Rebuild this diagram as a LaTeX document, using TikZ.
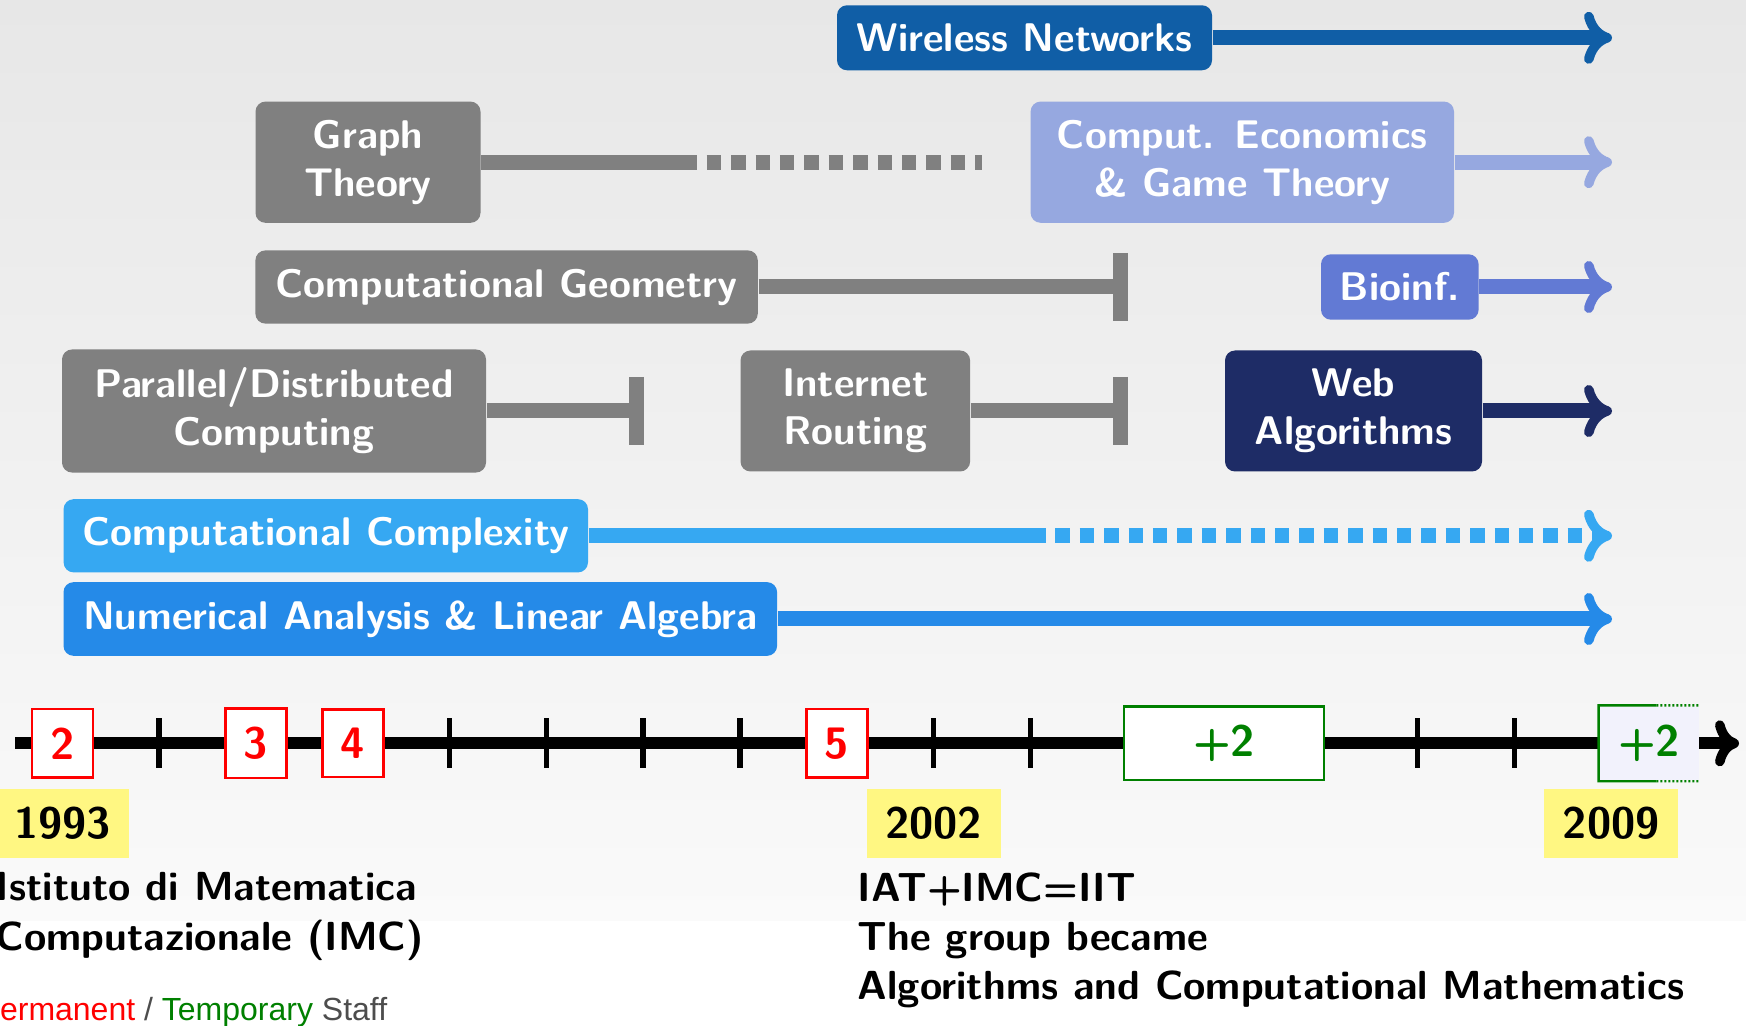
\documentclass[tikz,border=0pt]{standalone}
\usepackage{fontspec}
\usepackage{tikz}
\usetikzlibrary{arrows.meta,calc}
\newfontfamily\stafffont{Liberation Sans}
\definecolor{bgtop}{RGB}{231,231,231}
\definecolor{bgbot}{RGB}{250,250,250}
\definecolor{wirelesscol}{RGB}{16,94,166}
\definecolor{oldcol}{RGB}{128,128,128}
\definecolor{econcol}{RGB}{150,168,224}
\definecolor{bioinfcol}{RGB}{98,122,212}
\definecolor{webcol}{RGB}{30,44,102}
\definecolor{complexcol}{RGB}{54,168,242}
\definecolor{numercol}{RGB}{37,138,232}
\definecolor{yearcol}{RGB}{255,247,130}
\definecolor{permcol}{RGB}{255,0,0}
\definecolor{tempcol}{RGB}{0,128,0}
\definecolor{lastcol}{RGB}{242,242,252}
\definecolor{staffcol}{RGB}{77,77,77}

\begin{document}
\begin{tikzpicture}[x=0.25pt,y=-0.25pt,
  topic/.style={fill=#1,text=white,rounded corners=2.5pt,inner sep=4.6pt,
    font=\sffamily\bfseries,align=center},
  topicline/.style={draw=#1,line width=3.75pt},
  ongoing/.style={topicline=#1,-{To[length=7pt,width=13pt,line width=2.4pt]}},
  ended/.style={topicline=#1,-{Bar[width=17pt]}},
  faded/.style={topicline=#1,dash pattern=on 3.6pt off 2.5pt},
  year/.style={fill=yearcol,inner sep=4.6pt,minimum width=33.5pt,minimum height=16.25pt,
    font=\fontsize{11}{13}\selectfont\sffamily\bfseries},
  perm/.style={draw=permcol,line width=0.6pt,fill=white,text=permcol,inner sep=4.6pt,
    minimum width=15.25pt,minimum height=16.85pt,font=\fontsize{11}{13}\selectfont\sffamily\bfseries},
  temp/.style={draw=tempcol,line width=0.6pt,fill=white,text=tempcol,inner sep=4.6pt,
    minimum height=18pt,font=\fontsize{11}{13}\selectfont\sffamily\bfseries}]
\useasboundingbox (0,0) rectangle (1746,1026);
\clip (0,0) rectangle (1746,1026);
\shade[top color=bgtop,bottom color=bgbot] (0,0) rectangle (1746,920);

\node[topic=wirelesscol,minimum width=93.75pt] (wireless) at (1024.5,37.8) {Wireless Networks};
\coordinate (wirelessend) at (1612,37.8);
\draw[ongoing=wirelesscol] (wireless.east) -- (wirelessend);

\node[topic=oldcol,minimum width=56.25pt,minimum height=30.25pt] (graph) at (368,162.2) {Graph\\Theory};
\coordinate (graphsolid) at (697,162.2);
\coordinate (graphdash) at (706.7,162.2);
\coordinate (graphend) at (982.3,162.2);
\draw[topicline=oldcol] (graph.east) -- (graphsolid);
\draw[faded=oldcol] (graphdash) -- (graphend);
\node[topic=econcol,minimum width=105.85pt,minimum height=30.25pt] (econ) at (1242.3,162.2) {Comput. Economics\\\& Game Theory};
\coordinate (econend) at (1612,162.2);
\draw[ongoing=econcol] (econ.east) -- (econend);

\node[topic=oldcol,minimum width=125.6pt] (geom) at (506.6,287) {Computational Geometry};
\coordinate (geomend) at (1128,287);
\draw[ended=oldcol] (geom.east) -- (geomend);
\node[topic=bioinfcol,minimum width=39.4pt] (bioinf) at (1399.8,287) {Bioinf.};
\coordinate (bioinfend) at (1612,287);
\draw[ongoing=bioinfcol] (bioinf.east) -- (bioinfend);

\node[topic=oldcol,minimum width=106pt,minimum height=30.75pt] (parallel) at (274,411) {Parallel/Distributed\\Computing};
\coordinate (parallelend) at (644,411);
\draw[ended=oldcol] (parallel.east) -- (parallelend);
\node[topic=oldcol,minimum width=57.4pt,minimum height=30.25pt] (routing) at (855.3,411) {Internet\\Routing};
\coordinate (routingend) at (1128,411);
\draw[ended=oldcol] (routing.east) -- (routingend);
\node[topic=webcol,minimum width=64.25pt,minimum height=30.25pt] (web) at (1353.5,411) {Web\\Algorithms};
\coordinate (webend) at (1612,411);
\draw[ongoing=webcol] (web.east) -- (webend);

\node[topic=complexcol,minimum width=131.1pt] (complexity) at (325.8,535.8) {Computational Complexity};
\coordinate (complexitysolid) at (1045.7,535.8);
\coordinate (complexitydash) at (1055.3,535.8);
\coordinate (complexityend) at (1612,535.8);
\draw[topicline=complexcol] (complexity.east) -- (complexitysolid);
\draw[faded=complexcol,ongoing=complexcol] (complexitydash) -- (complexityend);

\node[topic=numercol,minimum width=178.4pt] (numerical) at (420.3,619) {Numerical Analysis \& Linear Algebra};
\coordinate (numericalend) at (1612,619);
\draw[ongoing=numercol] (numerical.east) -- (numericalend);

\coordinate (tlstart) at (15,743.3);
\coordinate (tlend) at (1739,743.3);
\draw[line width=3pt,-{To[length=6pt,width=11.5pt,line width=2.4pt]}] (tlstart) -- (tlend);
\foreach \i in {1,...,16}
  \draw[line width=1.4pt] (62.4+96.8*\i,718.3) -- (62.4+96.8*\i,768.3);

\node[perm] (n1993) at (62.4,743.3) {2};
\node[perm] (n1995) at (256,743.3) {3};
\node[perm] (n1996) at (352.8,743.3) {4};
\node[perm] (n2001) at (836.8,743.3) {5};
\node[temp,minimum width=50.1pt] (n2005) at (1224,743.3) {+2};
\node[temp,draw=none,fill=lastcol,minimum width=23.75pt] (n2009) at (1649.2,743.3) {+2};
\draw[tempcol,line width=0.6pt] ($(n2009.north west)!0.57!(n2009.north east)$) -- (n2009.north west)
  -- (n2009.south west) -- ($(n2009.south west)!0.57!(n2009.south east)$);
\draw[tempcol,line width=0.6pt,dash pattern=on 0.5pt off 0.5pt] ($(n2009.north west)!0.57!(n2009.north east)$) -- (n2009.north east);
\draw[tempcol,line width=0.6pt,dash pattern=on 0.5pt off 0.5pt] ($(n2009.south west)!0.57!(n2009.south east)$) -- (n2009.south east);

\node[year] (y1993) at (62.4,823.5) {1993};
\node[year] (y2002) at (933.6,823.5) {2002};
\node[year] (y2009) at (1611.2,823.5) {2009};

\node[anchor=north west,inner sep=0pt,align=left,font=\fontsize{10.15}{12.4}\selectfont\sffamily\bfseries] (imc) at (-5,872)
  {Istituto di Matematica\\Computazionale (IMC)};
\node[anchor=north west,inner sep=0pt,align=left,font=\fontsize{10.15}{12.3}\selectfont\sffamily\bfseries] (iit) at (857,872)
  {IAT+IMC=IIT\\The group became\\Algorithms and Computational Mathematics};
\node[anchor=base east,inner sep=0pt,font=\fontsize{8}{9.5}\selectfont\stafffont,text=staffcol] (staff) at (388,1020)
  {\textcolor{permcol}{Permanent} / \textcolor{tempcol}{Temporary} Staff};
\end{tikzpicture}
\end{document}
